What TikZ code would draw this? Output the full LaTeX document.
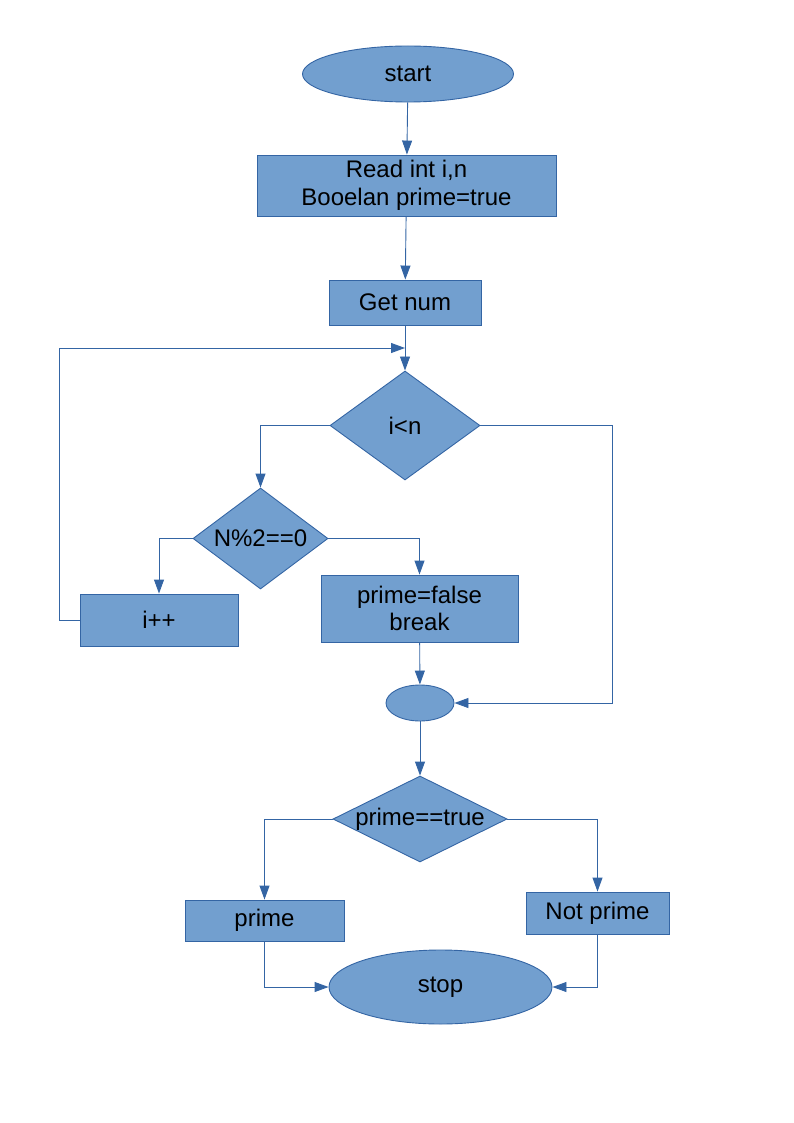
\documentclass[tikz,border=0pt]{standalone}
\usepackage{fontspec}
\setmainfont{Liberation Sans}
\usetikzlibrary{shapes.geometric,arrows.meta}
\definecolor{fillb}{HTML}{729FCF}
\definecolor{lineb}{HTML}{3465A4}
\begin{document}
\begin{tikzpicture}[x=1pt,y=-1pt,
  base/.style={draw=lineb,fill=fillb,line width=0.9pt,inner sep=0pt,font=\fontsize{24}{27.5}\selectfont,text=black,align=center},
  procbox/.style={base,rectangle},
  term/.style={base,ellipse},
  dec/.style={base,diamond},
  conn/.style={draw=lineb,line width=0.9pt,-{Triangle[length=14pt,width=10pt]}}]
\useasboundingbox (0,0) rectangle (794,1123);
\node[term,minimum width=211,minimum height=56] (start) at (408,74) {start};
\node[procbox,minimum width=299,minimum height=61] (read) at (406.5,185.5) {Read int i,n\\Booelan prime=true};
\node[procbox,minimum width=152,minimum height=45] (get) at (405,302.5) {Get num};
\node[dec,minimum width=150,minimum height=109] (d1) at (405,425.5) {\makebox[0pt]{i<n}};
\node[dec,minimum width=135,minimum height=101] (d2) at (260.5,538.5) {\makebox[0pt]{N\%2==0}};
\node[procbox,minimum width=158,minimum height=52] (ipp) at (159,620) {i++};
\node[procbox,minimum width=197,minimum height=67] (pf) at (419.5,608.5) {prime=false\\break};
\node[term,minimum width=68,minimum height=36] (mid) at (420,703) {};
\node[dec,minimum width=174,minimum height=86] (d3) at (420,819) {\makebox[0pt]{prime==true}};
\node[procbox,minimum width=159,minimum height=41] (pr) at (264.5,920.5) {prime};
\node[procbox,minimum width=143,minimum height=42] (np) at (597.5,913) {Not prime};
\node[term,minimum width=223,minimum height=74] (stop) at (440.5,987) {stop};
\coordinate (join) at (405,348);
\draw[conn] (start) -- (read);
\draw[conn] (read) -- (get);
\draw[conn] (get) -- (d1);
\draw[conn] (ipp.west) -- ++(-20,0) |- (join);
\draw[conn] (d1.west) -| (d2.north);
\draw[conn] (d1.east) -- ++(132,0) |- (mid.east);
\draw[conn] (d2.west) -| (ipp.north);
\draw[conn] (d2.east) -| (pf.north);
\draw[conn] (pf) -- (mid);
\draw[conn] (mid) -- (d3);
\draw[conn] (d3.west) -| (pr.north);
\draw[conn] (d3.east) -| (np.north);
\draw[conn] (pr.south) |- (stop.west);
\draw[conn] (np.south) |- (stop.east);
\end{tikzpicture}
\end{document}
